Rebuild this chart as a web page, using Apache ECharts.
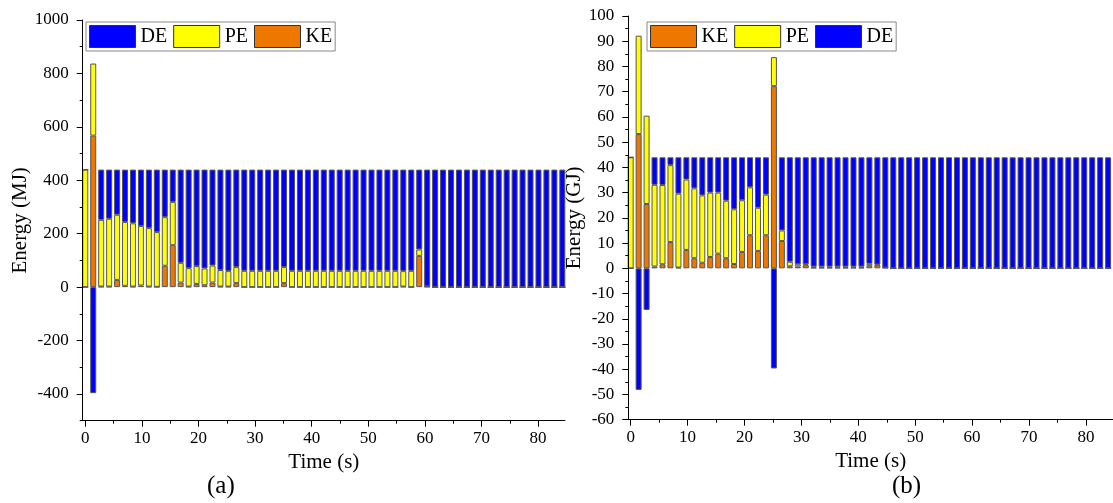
<!DOCTYPE html>
<html><head><meta charset="utf-8">
<script src="https://cdn.jsdelivr.net/npm/echarts@6/dist/echarts.min.js"></script>
<style>html,body{margin:0;padding:0;background:#fff}#c{width:1113px;height:503px}</style>
</head><body><div id="c"></div>
<script>
// Time (s) of each bar
const times = [0,1.41,2.81,4.22,5.62,7.03,8.43,9.84,11.24,12.65,14.05,15.46,16.86,18.27,19.67,21.08,22.48,23.89,25.29,26.70,28.10,29.51,30.91,32.32,33.72,35.13,36.53,37.94,39.34,40.75,42.15,43.56,44.96,46.37,47.77,49.18,50.58,51.99,53.39,54.80,56.20,57.61,59.01,60.42,61.82,63.23,64.63,66.04,67.44,68.85,70.25,71.66,73.06,74.47,75.87,77.28,78.68,80.09,81.49,82.90,84.30];

// Panel (a), MJ
const keA = [0,567,2,2,27,5,2,6,2,1,80,157,17,2,12,7,17,2,2,15,0,0,0,0,0,15,0,0,0,0,0,0,0,0,0,0,0,0,0,0,2,0,117,2,0,0,0,0,0,0,0,0,0,0,0,0,0,0,0,0,0];
const peA = [440,270,250,254,244,239,237,223,219,205,182,162,74,69,67,63,64,62,58,60,61,61,61,61,61,60,61,61,61,61,61,61,61,61,61,61,61,61,61,61,58,61,24,1,0,0,0,0,0,0,0,0,0,0,0,0,0,0,0,0,0];
const deA = [0,-397,188,184,169,196,201,211,219,234,178,121,349,369,361,370,359,376,380,365,379,379,379,379,379,365,379,379,379,379,379,379,379,379,379,379,379,379,379,379,380,379,299,437,440,440,440,440,440,440,440,440,440,440,440,440,440,440,440,440,440];

// Panel (b), GJ
const keB = [0,53.2,25.5,0.7,1.6,10.4,0.3,7.3,4.0,2.2,4.5,5.8,4.0,1.7,6.5,13.1,6.9,13.1,72.2,10.8,0.8,0.7,1.2,0.3,0.3,0.3,0.3,0.3,0.3,0.3,1.0,1.2,0.3,0,0,0,0,0,0,0,0,0,0,0,0,0,0,0,0,0,0,0,0,0,0,0,0,0,0,0,0];
const peB = [44,39.0,35.0,32.4,31.4,30.5,29.3,27.9,27.7,26.7,25.5,24.2,22.8,21.7,20.5,19.0,17.1,16.1,11.5,4.2,1.8,0.9,0.4,0.4,0.4,0.4,0.4,0.4,0.4,0.4,0.8,0.3,0,0,0,0,0,0,0,0,0,0,0,0,0,0,0,0,0,0,0,0,0,0,0,0,0,0,0,0,0];
const deB = [0,-48.2,-16.5,10.9,11.0,3.1,14.4,8.8,12.3,15.1,14.0,14.0,17.2,20.6,17.0,11.9,20.0,14.8,-39.7,29.0,41.4,42.4,42.4,43.3,43.3,43.3,43.3,43.3,43.3,43.3,42.2,42.5,43.7,44,44,44,44,44,44,44,44,44,44,44,44,44,44,44,44,44,44,44,44,44,44,44,44,44,44,44,44];

// Tick values
const xMajor = [0,10,20,30,40,50,60,70,80];
const xMinor = [5,15,25,35,45,55,65,75];
const yMajorA = [-400,-200,0,200,400,600,800,1000];
const yMinorA = [-500,-300,-100,100,300,500,700,900];
const yMajorB = [-60,-50,-40,-30,-20,-10,0,10,20,30,40,50,60,70,80,90,100];
const yMinorB = [-55,-45,-35,-25,-15,-5,5,15,25,35,45,55,65,75,85,95];

const FONT = 'Liberation Serif';
const C = {KE:'#EE7700', PE:'#FFFF00', DE:'#0000FF'};

function xAx(grid, min, max, major, vals, showName){
  return {
    type:'value', gridIndex:grid, position:'bottom', min:min, max:max,
    name: showName ? 'Time (s)' : '', nameLocation:'middle', nameGap:20,
    nameTextStyle:{fontFamily:FONT, fontSize:21, color:'#000'},
    axisLine:{show:major, onZero:false, lineStyle:{color:'#000', width:1}},
    axisTick:{show:true, inside:false, length: major?6:3, customValues:vals, lineStyle:{color:'#000'}},
    axisLabel:{show:major, customValues: major?vals:undefined, margin:9, fontFamily:FONT, fontSize:17, color:'#000', formatter:v=>String(v)},
    splitLine:{show:false}, z:5
  };
}
function yAx(grid, min, max, major, vals, name, gap){
  return {
    type:'value', gridIndex:grid, position:'left', min:min, max:max,
    name: name, nameLocation:'middle', nameGap:gap,
    nameTextStyle:{fontFamily:FONT, fontSize:21, color:'#000'},
    axisLine:{show:major, onZero:false, lineStyle:{color:'#000', width:1}},
    axisTick:{show:true, inside:false, length: major?6:3, customValues:vals, lineStyle:{color:'#000'}},
    axisLabel:{show:major, customValues: major?vals:undefined, margin:14, fontFamily:FONT, fontSize:17, color:'#000', formatter:v=>String(v)},
    splitLine:{show:false}, z:5
  };
}
function catX(grid){
  return {type:'category', gridIndex:grid, data:times, boundaryGap:true, show:false,
    axisLine:{show:false}, axisTick:{show:false}, axisLabel:{show:false}};
}
function hidY(grid, min, max){
  return {type:'value', gridIndex:grid, min:min, max:max, show:false, splitLine:{show:false}};
}
function bar(name, arr, xi, yi, stack){
  return {
    name:name, type:'bar', stack:stack, xAxisIndex:xi, yAxisIndex:yi,
    barWidth:6, clip:false, animation:false,
    itemStyle:{color:C[name], borderColor:'#555', borderWidth:1},
    data: arr
  };
}

const chart = echarts.init(document.getElementById('c'), null, {renderer:'canvas'});
chart.setOption({
  animation:false,
  backgroundColor:'#fff',
  grid:[
    {left:82.7, top:20, width:482.3, height:400.7},
    {left:628.3, top:16, width:484.7, height:403.7},
    {left:81.3, top:20, width:485, height:400.7},
    {left:626.7, top:16, width:485.4, height:403.7}
  ],
  xAxis:[
    xAx(0,-0.46,84.75,true,xMajor,true),
    xAx(0,-0.46,84.75,false,xMinor,false),
    xAx(1,-0.42,84.76,true,xMajor,true),
    xAx(1,-0.42,84.76,false,xMinor,false),
    catX(2), catX(3)
  ],
  yAxis:[
    yAx(0,-500,1000,true,yMajorA,'Energy (MJ)',37),
    yAx(0,-500,1000,false,yMinorA,'',0),
    yAx(1,-60,100,true,yMajorB,'Energy (GJ)',33),
    yAx(1,-60,100,false,yMinorB,'',0),
    hidY(2,-500,1000), hidY(3,-60,100)
  ],
  legend:[
    {data:['DE','PE','KE'], left:86, top:22, orient:'horizontal', icon:'rect',
     itemWidth:46, itemHeight:22, itemGap:6, padding:[3,3],
     borderColor:'#888', borderWidth:1, backgroundColor:'#fff',
     itemStyle:{borderColor:'#333', borderWidth:1},
     textStyle:{fontFamily:FONT, fontSize:20, color:'#000'}, selectedMode:false},
    {data:['KE','PE','DE'], left:647, top:22, orient:'horizontal', icon:'rect',
     itemWidth:46, itemHeight:22, itemGap:6, padding:[3,3],
     borderColor:'#888', borderWidth:1, backgroundColor:'#fff',
     itemStyle:{borderColor:'#333', borderWidth:1},
     textStyle:{fontFamily:FONT, fontSize:20, color:'#000'}, selectedMode:false}
  ],
  graphic:[
    {type:'text', left:207, top:474, style:{text:'(a)', fontFamily:FONT, fontSize:25, fill:'#000'}},
    {type:'text', left:892, top:474, style:{text:'(b)', fontFamily:FONT, fontSize:25, fill:'#000'}}
  ],
  series:[
    bar('KE', keA, 4, 4, 'a'),
    bar('PE', peA, 4, 4, 'a'),
    bar('DE', deA, 4, 4, 'a'),
    bar('KE', keB, 5, 5, 'b'),
    bar('PE', peB, 5, 5, 'b'),
    bar('DE', deB, 5, 5, 'b')
  ]
});
</script></body></html>
